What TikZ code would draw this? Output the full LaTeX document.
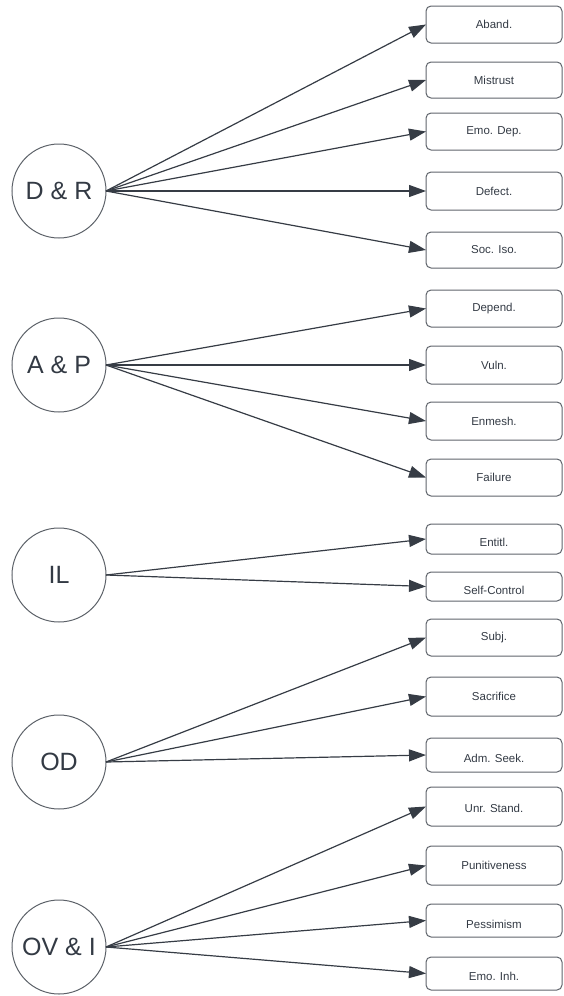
\documentclass[tikz,border=0pt]{standalone}
\usepackage{fontspec}
\setmainfont{Liberation Sans}
\usetikzlibrary{arrows.meta}

\definecolor{ringgray}{HTML}{5C6168}
\definecolor{edgeink}{HTML}{363C45}
\definecolor{labelink}{HTML}{333A44}
\definecolor{boxgray}{HTML}{5F646B}

% lower a label inside its box without changing the box size
\newcommand{\lowlabel}[2]{\raisebox{-#1}[\height][\depth]{#2}}

\tikzset{
  hub/.style={circle, draw=ringgray, line width=1pt, minimum size=94pt,
    inner sep=0pt, outer sep=0pt, text=labelink,
    font=\fontsize{25}{28}\selectfont},
  leaf/.style={draw=boxgray, line width=1pt, rounded corners=5pt,
    minimum width=136pt, inner sep=0pt, outer sep=0pt, text=labelink,
    font=\fontsize{11.5}{13}\selectfont},
  link/.style={draw=edgeink, line width=1.2pt,
    -{Triangle[length=17pt, width=12pt]}, shorten >=0pt}
}

\begin{document}
\begin{tikzpicture}[x=1pt, y=-1pt]
\useasboundingbox (0,0) rectangle (563,996);

% source circles
\node[hub] (dr) at (59,191) {D \& R};
\node[hub] (ap) at (59,365) {A \& P};
\node[hub] (il) at (59,575) {IL};
\node[hub] (od) at (59,762) {OD};
\node[hub] (ov) at (59,947) {OV \& I};

% target boxes
\node[leaf, minimum height=37pt] (aband)   at (494,24.5) {Aband.};
\node[leaf, minimum height=36pt] (mistr)   at (494,80)   {Mistrust};
\node[leaf, minimum height=37pt] (emodep)  at (494,131.5){Emo. Dep.};
\node[leaf, minimum height=38pt] (defect)  at (494,191)  {Defect.};
\node[leaf, minimum height=36pt] (sociso)  at (494,250)  {Soc. Iso.};

\node[leaf, minimum height=37pt] (depend)  at (494,308.5){Depend.};
\node[leaf, minimum height=38pt] (vuln)    at (494,365)  {Vuln.};
\node[leaf, minimum height=38pt] (enmesh)  at (494,421)  {Enmesh.};
\node[leaf, minimum height=37pt] (failure) at (494,477.5){Failure};

\node[leaf, minimum height=30pt] (entitl)  at (494,539)  {\lowlabel{3pt}{Entitl.}};
\node[leaf, minimum height=29pt] (selfc)   at (494,586.5){\lowlabel{4pt}{Self-Control}};

\node[leaf, minimum height=37pt] (subj)    at (494,637.5){Subj.};
\node[leaf, minimum height=39pt] (sacr)    at (494,696.5){Sacrifice};
\node[leaf, minimum height=34pt] (adm)     at (494,755)  {\lowlabel{3pt}{Adm. Seek.}};

\node[leaf, minimum height=39pt] (unr)     at (494,806.5){\lowlabel{1.5pt}{Unr. Stand.}};
\node[leaf, minimum height=39pt] (punit)   at (494,865.5){Punitiveness};
\node[leaf, minimum height=33pt] (pess)    at (494,920.5){\lowlabel{4pt}{Pessimism}};
\node[leaf, minimum height=33pt] (emoinh)  at (494,973.5){\lowlabel{3pt}{Emo. Inh.}};

% connectors
\foreach \t in {aband, mistr, emodep, defect, sociso}
  \draw[link] (dr.east) -- (\t.west);
\foreach \t in {depend, vuln, enmesh, failure}
  \draw[link] (ap.east) -- (\t.west);
\foreach \t in {entitl, selfc}
  \draw[link] (il.east) -- (\t.west);
\foreach \t in {subj, sacr, adm}
  \draw[link] (od.east) -- (\t.west);
\foreach \t in {unr, punit, pess, emoinh}
  \draw[link] (ov.east) -- (\t.west);
\end{tikzpicture}
\end{document}
